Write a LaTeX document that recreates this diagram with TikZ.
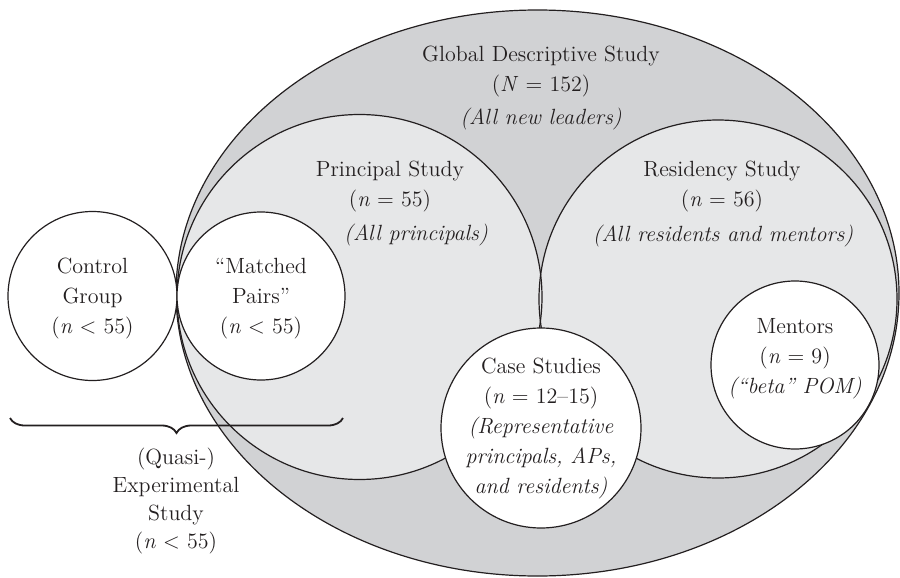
\documentclass[tikz,border=0pt]{standalone}
\usetikzlibrary{decorations.pathreplacing}
\definecolor{outerfill}{HTML}{D1D2D4}
\definecolor{innerfill}{HTML}{E6E7E8}
\definecolor{ink}{HTML}{231F20}
\begin{document}
\begin{tikzpicture}[x=0.5pt,y=-0.5pt,
  outline/.style={draw=ink,line width=0.6pt},
  txt/.style={align=center,text=ink,inner sep=0pt,font=\fontsize{11}{15}\selectfont},
  note/.style={txt,font=\fontsize{11}{15}\selectfont\itshape}]
\useasboundingbox (0,0) rectangle (900,578);

% centres of the study sets
\coordinate (global)    at (537.5,293);
\coordinate (principal) at (359.5,297);
\coordinate (residency) at (718,299);
\coordinate (control)   at (92.5,296);
\coordinate (matched)   at (261,296);
\coordinate (cases)     at (541,428);
\coordinate (mentors)   at (795,365);

% global descriptive study
\filldraw[outline,fill=outerfill] (global) ellipse [x radius=361.5, y radius=283];

% principal and residency studies: fill both, then stroke both
\fill[innerfill] (principal) circle [radius=182.5];
\fill[innerfill] (residency) circle [radius=179];
\draw[outline] (principal) circle [radius=182.5];
\draw[outline] (residency) circle [radius=179];

% small sets
\filldraw[outline,fill=white] (control) circle [radius=84.5];
\filldraw[outline,fill=white] (matched) circle [radius=84];
\filldraw[outline,fill=white] (cases)   circle [radius=100];
\filldraw[outline,fill=white] (mentors) circle [radius=84];

% labels
\node[txt]  (tglobal) at (541,72) {Global Descriptive Study\\(\textit{N} = 152)};
\node[note] (nglobal) at (541,119) {(All new leaders)};
\node[txt]  (tprin) at (390,187) {Principal Study\\(\textit{n} = 55)};
\node[note] (nprin) at (416,235) {(All principals)};
\node[txt]  (tres) at (722,187) {Residency Study\\(\textit{n} = 56)};
\node[note] (nres) at (723,236) {(All residents and mentors)};
\node[txt]  (tcontrol) at (92.5,299) {Control\\Group\\(\textit{n} < 55)};
\node[txt]  (tmatched) at (261,299) {“Matched\\Pairs”\\(\textit{n} < 55)};
\node[txt]  (tcases) at (541,429) {Case Studies\\(\textit{n} = 12–15)\\
  \textit{(Representative}\\\textit{principals, APs,}\\\textit{and residents)}};
\node[txt]  (tmentors) at (795,359) {Mentors\\(\textit{n} = 9)\\\textit{(“beta” POM)}};
\node[txt,font=\fontsize{11}{14}\selectfont] (tquasi) at (176,501)
  {(Quasi-)\\Experimental\\Study\\(\textit{n} < 55)};

% brace over control group and matched pairs
\coordinate (braceL) at (10,418);
\coordinate (braceR) at (343,418);
\draw[ink,line width=0.9pt,decorate,decoration={brace,amplitude=7.5pt}]
  (braceR) -- (braceL);
\end{tikzpicture}
\end{document}
